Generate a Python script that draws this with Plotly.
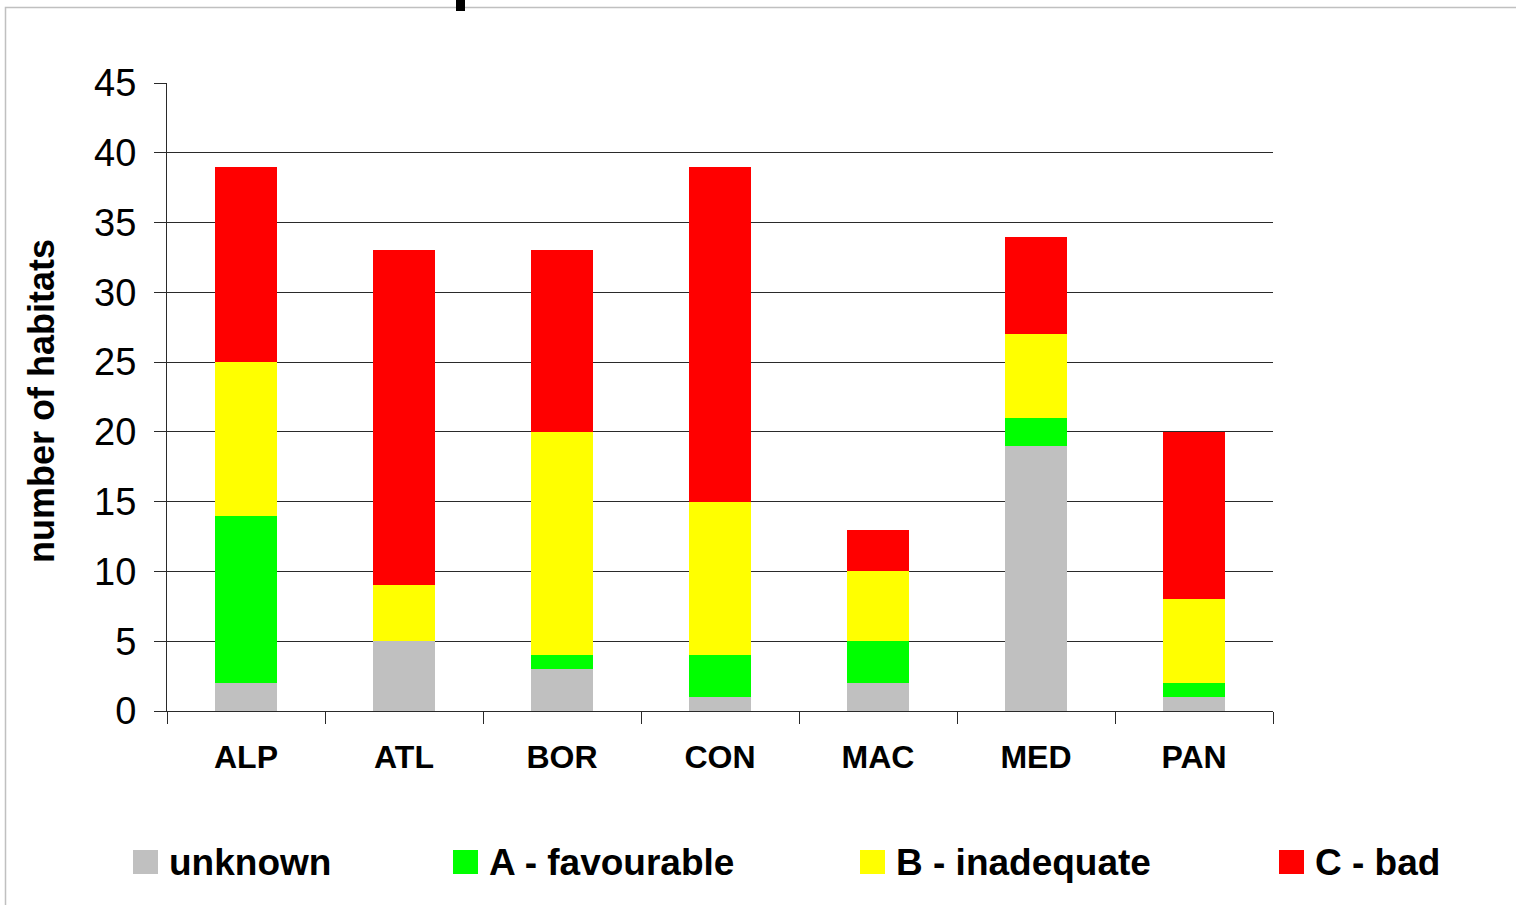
import plotly.graph_objects as go

# ---- data ----
regions = ["ALP", "ATL", "BOR", "CON", "MAC", "MED", "PAN"]
unknown = [2, 5, 3, 1, 2, 19, 1]
a_favourable = [12, 0, 1, 3, 3, 2, 1]
b_inadequate = [11, 4, 16, 11, 5, 6, 6]
c_bad = [14, 24, 13, 24, 3, 7, 12]
series_names = ["unknown", "A - favourable", "B - inadequate", "C - bad"]
series_values = [unknown, a_favourable, b_inadequate, c_bad]
series_colors = ["#C0C0C0", "#00FF00", "#FFFF00", "#FF0000"]
y_title = "number of habitats"

# ---- layout geometry ----
W, H = 1516, 905
L, R, T, B = 167, 243, 83, 194
PW, PH = W - L - R, H - T - B


def px_x(x):
    return (x - L) / PW


def px_y(y):
    return (H - B - y) / PH


FONT = "Arial, Liberation Sans, sans-serif"

fig = go.Figure()
for name, vals, col in zip(series_names, series_values, series_colors):
    fig.add_trace(go.Bar(x=regions, y=vals, name=name, marker=dict(color=col, line=dict(width=0)),
                         width=0.392, showlegend=False))

fig.update_layout(
    barmode="stack",
    width=W, height=H,
    margin=dict(l=L, r=R, t=T, b=B),
    paper_bgcolor="white", plot_bgcolor="white",
    font=dict(family=FONT, color="black"),
)
fig.update_xaxes(
    type="category", showline=True, linecolor="#2a2a2a", linewidth=1.2,
    ticks="outside", tickson="boundaries", ticklen=12, tickcolor="#2a2a2a", tickwidth=1.2,
    tickfont=dict(family=FONT, size=32, color="black", weight="bold"),
    ticklabelstandoff=17, showgrid=False,
)
fig.update_yaxes(
    range=[0, 45], dtick=5, tick0=0, showline=True, linecolor="#2a2a2a", linewidth=1.2,
    ticks="outside", ticklen=12, tickcolor="#2a2a2a", tickwidth=1.2,
    showgrid=True, gridcolor="#2a2a2a", gridwidth=1.2, zeroline=False,
    tickfont=dict(family=FONT, size=38, color="black"),
    ticklabelstandoff=10,
)

# y-axis title
fig.add_annotation(text=y_title, xref="paper", yref="paper", x=px_x(41), y=px_y(401),
                   textangle=-90, showarrow=False, xanchor="center", yanchor="middle",
                   font=dict(family=FONT, size=36, color="black", weight="bold"))

# manual legend
sq_left = [133, 453, 860, 1279]
for name, col, xl in zip(series_names, series_colors, sq_left):
    fig.add_shape(type="rect", xref="paper", yref="paper",
                  x0=px_x(xl), x1=px_x(xl + 25), y0=px_y(874), y1=px_y(850),
                  fillcolor=col, line=dict(width=0))
    fig.add_annotation(text=name, xref="paper", yref="paper", x=px_x(xl + 34), y=px_y(862),
                       showarrow=False, xanchor="left", yanchor="middle",
                       font=dict(family=FONT, size=37, color="black", weight="bold"))

# outer frame (chart border partially visible)
fig.add_shape(type="rect", xref="paper", yref="paper",
              x0=px_x(5.5), x1=px_x(1530), y0=px_y(930), y1=px_y(7.5),
              line=dict(color="#C0C0C0", width=1.5), fillcolor="rgba(0,0,0,0)", layer="below")
# clipped fragment of a title glyph at the very top
fig.add_shape(type="rect", xref="paper", yref="paper",
              x0=px_x(456), x1=px_x(465), y0=px_y(11), y1=px_y(-2),
              line=dict(width=0), fillcolor="black")

fig.write_html("out.html", config={"displayModeBar": False},
               post_script="document.body.style.margin='0';document.body.style.overflow='hidden';")
